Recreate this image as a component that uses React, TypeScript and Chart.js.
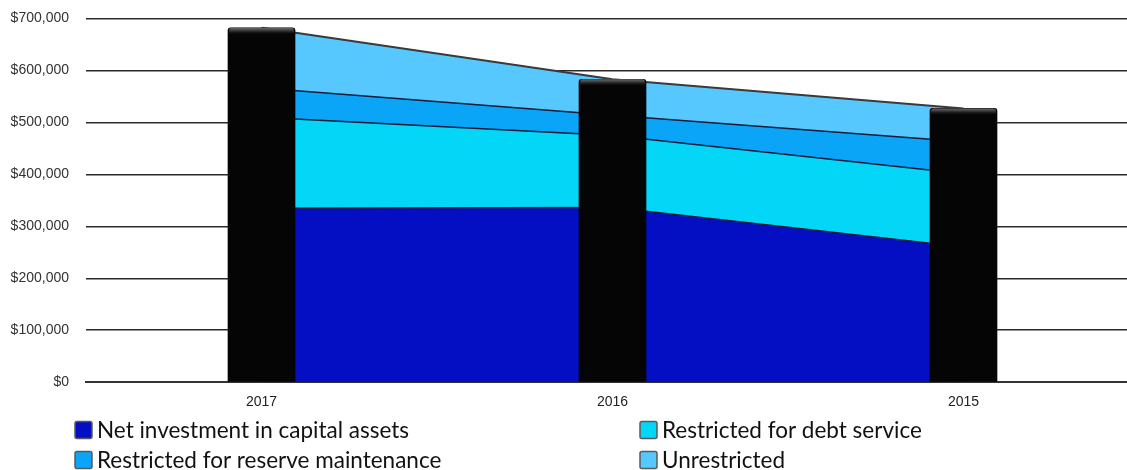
import React, { useEffect, useRef } from "react";
import { Chart, registerables } from "chart.js";

Chart.register(...registerables);

// Fiscal years shown left to right
const years: string[] = ["2017", "2016", "2015"];

// Net position components (USD)
const netInvestment: number[] = [335000, 336000, 260000];
const debtService: number[] = [175000, 139000, 141000];
const reserveMaintenance: number[] = [56000, 39000, 62000];
const unrestricted: number[] = [116000, 69000, 64000];

// Total net position per year
const totalNetPosition: number[] = years.map(
  (_, i) => netInvestment[i] + debtService[i] + reserveMaintenance[i] + unrestricted[i]
);

const yTickValues: number[] = [0, 100000, 200000, 300000, 400000, 500000, 600000, 700000];

const seriesLabels: string[] = [
  "Net investment in capital assets",
  "Restricted for debt service",
  "Restricted for reserve maintenance",
  "Unrestricted",
];

const seriesColors: string[] = ["#040fc4", "#04d6f8", "#0ba5f7", "#56c8fe"];

const money = (v: number) => "$" + v.toLocaleString("en-US");

const axisFont = '"Liberation Sans", Arial, sans-serif';

// Adds a soft bevel at the top of each black column
const columnBevel = {
  id: "columnBevel",
  afterDatasetsDraw(chart: any) {
    const { ctx } = chart;
    chart.data.datasets.forEach((ds: any, di: number) => {
      if (ds.type !== "bar") return;
      const meta = chart.getDatasetMeta(di);
      meta.data.forEach((bar: any) => {
        const { x, y, width } = bar.getProps(["x", "y", "width"], true);
        const left = x - width / 2;
        const g = ctx.createLinearGradient(0, y, 0, y + 7);
        g.addColorStop(0, "#6a6a6a");
        g.addColorStop(0.5, "#2a2a2a");
        g.addColorStop(1, "rgba(5,5,5,0)");
        ctx.save();
        ctx.fillStyle = g;
        ctx.beginPath();
        ctx.roundRect(left + 1, y, width - 2, 7, [3, 3, 0, 0]);
        ctx.fill();
        ctx.restore();
      });
    });
  },
};

// Two-column legend beneath the x axis
const gridLegend = {
  id: "gridLegend",
  afterDraw(chart: any) {
    const { ctx } = chart;
    const cols = [75, 640];
    const rows = [430, 460];
    ctx.save();
    ctx.font = '22.5px Lato, "Noto Sans", sans-serif';
    ctx.textBaseline = "middle";
    ctx.textAlign = "left";
    [0, 1, 2, 3].forEach((di, k) => {
      const ds = chart.data.datasets[di];
      const bx = cols[k % 2];
      const cy = rows[Math.floor(k / 2)];
      const size = 17;
      const by = cy - size / 2;
      ctx.fillStyle = ds.backgroundColor;
      ctx.strokeStyle = "#5a5a5a";
      ctx.lineWidth = 1.5;
      ctx.beginPath();
      ctx.roundRect(bx, by, size, size, 2);
      ctx.fill();
      ctx.stroke();
      ctx.fillStyle = "#111";
      ctx.fillText(ds.label, bx + size + 5, cy + 1);
    });
    ctx.restore();
  },
};

export default function App() {
  const canvasRef = useRef<HTMLCanvasElement | null>(null);

  useEffect(() => {
    if (!canvasRef.current) return;
    const areaSeries = [netInvestment, debtService, reserveMaintenance, unrestricted];
    const chart = new Chart(canvasRef.current, {
      type: "line",
      data: {
        labels: years,
        datasets: [
          ...areaSeries.map((values, i) => ({
            type: "line" as const,
            label: seriesLabels[i],
            data: values,
            backgroundColor: seriesColors[i],
            borderColor: i === 3 ? "#3a3a3a" : "#1a1a3a",
            borderWidth: i === 3 ? 2 : 1.5,
            fill: i === 0 ? "origin" : "-1",
            tension: 0,
            pointRadius: 0,
            stack: "areas",
            order: 1,
          })),
          {
            type: "bar" as const,
            label: "Total net position",
            data: totalNetPosition,
            backgroundColor: "#050505",
            borderRadius: { topLeft: 3, topRight: 3, bottomLeft: 0, bottomRight: 0 },
            borderSkipped: "bottom",
            barThickness: 67,
            stack: "totals",
            order: 0,
          },
        ],
      },
      options: {
        animation: false,
        responsive: false,
        maintainAspectRatio: false,
        layout: { padding: { top: 18.5, right: 0, bottom: 47, left: 0 } },
        plugins: {
          legend: { display: false },
          tooltip: { enabled: false },
        },
        scales: {
          x: {
            offset: true,
            grid: { display: false, drawTicks: false },
            border: { display: true, color: "#333", width: 2 },
            ticks: {
              color: "#222",
              padding: 12,
              font: { family: axisFont, size: 14 },
            },
          },
          y: {
            stacked: true,
            min: 0,
            max: 700000,
            afterFit: (scale: any) => {
              scale.width = 86;
            },
            afterBuildTicks: (scale: any) => {
              scale.ticks = yTickValues.map((v) => ({ value: v }));
            },
            grid: {
              color: "#2a2a2a",
              lineWidth: 1.5,
              drawTicks: true,
              tickLength: 17,
              tickColor: "rgba(0,0,0,0)",
            },
            border: { display: false },
            ticks: {
              color: "#333",
              padding: 0,
              font: { family: axisFont, size: 14 },
              callback: (v: any) => money(Number(v)),
            },
          },
        },
      },
      plugins: [columnBevel, gridLegend],
    });
    return () => chart.destroy();
  }, []);

  return (
    <div
      style={{
        position: "fixed",
        left: 0,
        top: 0,
        width: 1127,
        height: 470,
        overflow: "hidden",
        background: "#fff",
      }}
    >
      <canvas ref={canvasRef} width={1139} height={470} style={{ display: "block" }} />
    </div>
  );
}
